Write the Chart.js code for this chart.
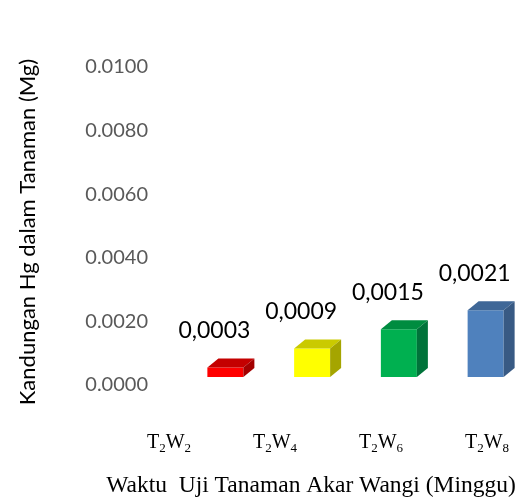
<!DOCTYPE html>
<html>
<head>
<meta charset="utf-8">
<style>
  html, body { margin: 0; padding: 0; background: #ffffff; }
  #wrap { width: 529px; height: 500px; position: relative; }
</style>
<script src="https://cdn.jsdelivr.net/npm/chart.js@4"></script>
</head>
<body>
<div id="wrap"><canvas id="c" width="529" height="500"></canvas></div>
<script>
// Hg content in vetiver (akar wangi) plants per sampling week
const categories = ['T2W2', 'T2W4', 'T2W6', 'T2W8'];
const hgValues = [0.0003, 0.0009, 0.0015, 0.0021];
const yTicks = [0.0000, 0.0020, 0.0040, 0.0060, 0.0080, 0.0100];

const frontColors = ['#FF0000', '#FFFF00', '#00B050', '#4F81BD'];
const topColors   = ['#C40000', '#CACA00', '#008C40', '#3F6797'];
const sideColors  = ['#A30000', '#A5A500', '#00733A', '#385A84'];

const yTitle = 'Kandungan Hg dalam Tanaman (Mg)';
const xTitle = 'Waktu  Uji Tanaman Akar Wangi (Minggu)';

const DEPTH_X = 11, DEPTH_Y = 9;

// Side and top faces give each bar a block look
const bar3d = {
  id: 'bar3d',
  afterDatasetsDraw(chart) {
    const ctx = chart.ctx;
    const meta = chart.getDatasetMeta(0);
    ctx.save();
    meta.data.forEach((bar, i) => {
      const { x, y, base, width } = bar.getProps(['x', 'y', 'base', 'width'], true);
      const l = x - width / 2, r = x + width / 2;
      ctx.fillStyle = topColors[i];
      ctx.beginPath();
      ctx.moveTo(l, y);
      ctx.lineTo(l + DEPTH_X, y - DEPTH_Y);
      ctx.lineTo(r + DEPTH_X, y - DEPTH_Y);
      ctx.lineTo(r, y);
      ctx.closePath();
      ctx.fill();
      ctx.fillStyle = sideColors[i];
      ctx.beginPath();
      ctx.moveTo(r, y);
      ctx.lineTo(r + DEPTH_X, y - DEPTH_Y);
      ctx.lineTo(r + DEPTH_X, base - DEPTH_Y);
      ctx.lineTo(r, base);
      ctx.closePath();
      ctx.fill();
    });
    ctx.restore();
  }
};

// Value labels above the bars, decimal comma
const valueLabels = {
  id: 'valueLabels',
  afterDatasetsDraw(chart) {
    const ctx = chart.ctx;
    const meta = chart.getDatasetMeta(0);
    ctx.save();
    ctx.font = '23px Lato';
    ctx.fillStyle = '#000000';
    ctx.textAlign = 'center';
    ctx.textBaseline = 'middle';
    meta.data.forEach((bar, i) => {
      const { x, y } = bar.getProps(['x', 'y'], true);
      const txt = hgValues[i].toFixed(4).replace('.', ',');
      ctx.fillText(txt, x - 11, y - 37);
    });
    ctx.restore();
  }
};

// Category names with subscript digits, plus both axis titles
const axisText = {
  id: 'axisText',
  afterDraw(chart) {
    const ctx = chart.ctx;
    const xs = chart.scales.x;
    ctx.save();
    ctx.fillStyle = '#000000';
    ctx.textBaseline = 'alphabetic';
    ctx.textAlign = 'left';
    const big = '20px "Liberation Serif"', small = '13px "Liberation Serif"';
    categories.forEach((name, i) => {
      const parts = name.split('').map(ch => ({ ch, sub: /\d/.test(ch) }));
      let total = 0;
      parts.forEach(p => { ctx.font = p.sub ? small : big; p.w = ctx.measureText(p.ch).width; total += p.w; });
      // category names sit on a slightly wider pitch than the bars
      let cx = xs.getPixelForDecimal(-0.0375 + i * 0.3055) - total / 2;
      const baseY = 448;
      parts.forEach(p => {
        ctx.font = p.sub ? small : big;
        ctx.fillText(p.ch, cx, p.sub ? baseY + 4 : baseY);
        cx += p.w;
      });
    });

    ctx.font = '23.5px "Liberation Serif"';
    ctx.textAlign = 'center';
    ctx.textBaseline = 'middle';
    ctx.fillText(xTitle, 311, 486);

    ctx.font = '22px Lato';
    ctx.translate(28, 232);
    ctx.rotate(-Math.PI / 2);
    ctx.fillText(yTitle, 0, 0);
    ctx.restore();
  }
};

new Chart(document.getElementById('c'), {
  type: 'bar',
  data: {
    labels: categories,
    datasets: [{
      data: hgValues,
      backgroundColor: frontColors,
      borderWidth: 0,
      barPercentage: 0.415,
      categoryPercentage: 1.0
    }]
  },
  options: {
    responsive: false,
    animation: false,
    events: [],
    layout: { padding: { top: 59, bottom: 123, left: 0, right: 0 } },
    plugins: { legend: { display: false }, tooltip: { enabled: false }, title: { display: false } },
    scales: {
      x: { display: false, offset: true, grid: { display: false } },
      y: {
        min: 0,
        max: 0.01,
        grid: { display: false, drawTicks: false },
        border: { display: false },
        afterFit(scale) { scale.width = 182; },
        afterBuildTicks(scale) { scale.ticks = yTicks.map(v => ({ value: v })); },
        ticks: {
          padding: 34,
          labelOffset: 8,
          color: '#595959',
          font: { family: 'Lato', size: 20 },
          callback: v => Number(v).toFixed(4)
        }
      }
    }
  },
  plugins: [bar3d, valueLabels, axisText]
});
</script>
</body>
</html>
